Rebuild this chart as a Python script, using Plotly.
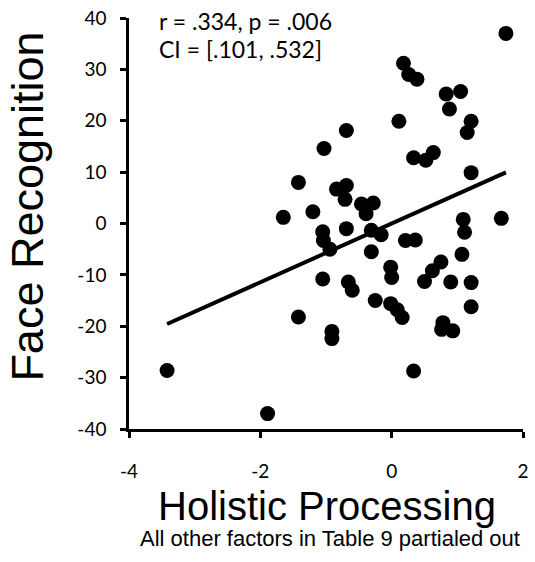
import plotly.graph_objects as go

# Holistic processing scores (residualised) and face recognition scores
holistic = [
    -3.42, -1.89, -1.65, -1.42, -1.42, -1.20, -1.03, -1.05, -1.04, -0.94,
    -1.05, -0.91, -0.91, -0.84, -0.69, -0.71, -0.69, -0.69, -0.66, -0.60,
    -0.46, -0.28, -0.39, -0.31, -0.16, -0.31, -0.25, -0.015, 0.0, -0.015,
    0.085, 0.16, 0.11, 0.18, 0.26, 0.385, 0.21, 0.36, 0.334, 0.52,
    0.634, 0.334, 0.50, 0.62, 0.75, 0.90, 0.78, 0.76, 0.93, 0.83,
    1.05, 0.88, 1.21, 1.15, 1.21, 1.09, 1.11, 1.07, 1.21, 1.21,
    1.67, 1.74,
]
face_recognition = [
    -28.6, -37.0, 1.2, 8.0, -18.2, 2.3, 14.6, -1.6, -3.3, -5.0,
    -10.8, -21.0, -22.4, 6.7, 7.4, 4.7, 18.1, -1.0, -11.4, -13.0,
    3.8, 4.0, 1.9, -1.3, -2.2, -5.5, -15.0, -8.5, -10.5, -15.6,
    -16.8, -18.3, 19.9, 31.2, 29.0, 28.1, -3.3, -3.2, 12.8, 12.3,
    13.8, -28.7, -11.3, -9.2, -7.5, -11.4, -19.3, -20.6, -20.9, 25.2,
    25.7, 22.3, 19.9, 17.7, 9.9, 0.8, -1.7, -6.0, -11.5, -16.2,
    1.0, 37.0,
]

# Least-squares fit line spanning the observed range
fit_slope = 5.72
fit_intercept = 0.0
fit_x = [min(holistic), max(holistic)]
fit_y = [fit_slope * v + fit_intercept for v in fit_x]

x_ticks = [-4, -2, 0, 2]
y_ticks = [-40, -30, -20, -10, 0, 10, 20, 30, 40]

stats_lines = ["r = .334, p = .006", "CI = [.101, .532]"]

fig = go.Figure()
fig.add_trace(go.Scatter(
    x=fit_x, y=fit_y, mode="lines",
    line=dict(color="black", width=4),
    showlegend=False, hoverinfo="skip",
))
fig.add_trace(go.Scatter(
    x=holistic, y=face_recognition, mode="markers",
    marker=dict(color="black", size=15, line=dict(width=0)),
    showlegend=False,
))

tick_font = dict(family="Lato, Open Sans, sans-serif", size=19, color="black")
axis_common = dict(
    showgrid=False, zeroline=False, showline=True,
    linecolor="black", linewidth=2.5,
    ticks="outside", ticklen=6, tickwidth=2.5, tickcolor="black",
    tickfont=tick_font,
)
fig.update_xaxes(range=[-4, 2], tickvals=x_ticks, ticktext=[str(v) for v in x_ticks],
                 ticklabelstandoff=17, **axis_common)
fig.update_yaxes(range=[-40, 40], tickvals=y_ticks, ticktext=[str(v) for v in y_ticks],
                 ticklabelstandoff=10, **axis_common)

title_font = "Liberation Sans, Arial, sans-serif"
annotations = [
    dict(text="Face Recognition", x=-0.26, y=0.54, textangle=-90,
         font=dict(family=title_font, size=45, color="black")),
    dict(text="Holistic Processing", x=0.5025, y=-0.187,
         font=dict(family=title_font, size=40, color="black")),
    dict(text="All other factors in Table 9 partialed out", x=0.51, y=-0.266,
         font=dict(family=title_font, size=22, color="black")),
    dict(text=stats_lines[0], x=0.07, y=0.993, xanchor="left",
         font=dict(family="Lato, Open Sans, sans-serif", size=23, color="black")),
    dict(text=stats_lines[1], x=0.07, y=0.925, xanchor="left",
         font=dict(family="Lato, Open Sans, sans-serif", size=23, color="black")),
]
for a in annotations:
    a.setdefault("xanchor", "center")
    fig.add_annotation(xref="paper", yref="paper", showarrow=False, yanchor="middle", **a)

fig.update_layout(
    width=535, height=562,
    margin=dict(l=129, r=6, t=16, b=133),
    plot_bgcolor="white", paper_bgcolor="white",
)

fig.write_html("out.html")
